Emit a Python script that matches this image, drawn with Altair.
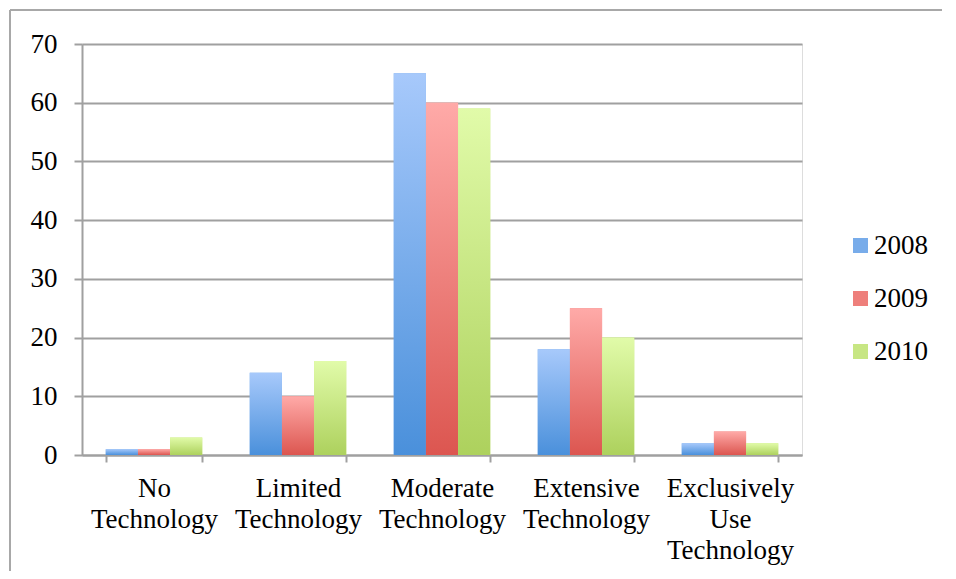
import altair as alt
import pandas as pd

categories = ["No Technology", "Limited Technology", "Moderate Technology",
              "Extensive Technology", "Exclusively Use Technology"]
years = ["2008", "2009", "2010"]
v2008 = [1, 14, 65, 18, 2]
v2009 = [1, 10, 60, 25, 4]
v2010 = [3, 16, 59, 20, 2]

rows = []
for yr, vals in zip(years, [v2008, v2009, v2010]):
    for c, v in zip(categories, vals):
        rows.append({"category": c, "year": yr, "value": v})
df = pd.DataFrame(rows)

top_colors = {"2008": "#a7c9fb", "2009": "#ffaaa8", "2010": "#e1fba9"}
bot_colors = {"2008": "#4a90db", "2009": "#dc5650", "2010": "#add15d"}
mid_colors = ["#78acea", "#ee7f7b", "#c7e683"]

FONT = "Liberation Serif"
FS = 27

x_enc = alt.X("category:N", sort=categories, title=None,
              scale=alt.Scale(paddingInner=0.33, paddingOuter=0.165),
              axis=alt.Axis(labelExpr="split(datum.label, ' ')", labelAngle=0,
                            labelFont=FONT, labelFontSize=FS, labelColor="#000000",
                            labelLineHeight=31, labelPadding=13, labelBaseline="top",
                            tickBand="extent", tickSize=7, tickColor="#a0a0a0",
                            tickWidth=2, domainColor="#a0a0a0", domainWidth=2,
                            grid=False))
y_enc = alt.Y("value:Q", title=None,
              scale=alt.Scale(domain=[0, 70], nice=False),
              axis=alt.Axis(values=list(range(0, 71, 10)), labelFont=FONT,
                            labelFontSize=FS, labelColor="#000000", labelPadding=17,
                            tickSize=8, tickColor="#a0a0a0", tickWidth=2,
                            domainColor="#a0a0a0", domainWidth=2,
                            gridColor="#a0a0a0", gridWidth=2))

base = alt.Chart(df)

legend_layer = base.mark_bar().encode(
    x=x_enc, y=y_enc,
    xOffset=alt.XOffset("year:N", sort=years),
    color=alt.Color("year:N", sort=years,
                    scale=alt.Scale(domain=years, range=mid_colors),
                    legend=alt.Legend(title=None, orient="none", legendX=765,
                                      legendY=188, labelFont=FONT, labelFontSize=FS,
                                      labelColor="#000000", symbolType="square",
                                      symbolSize=225, symbolStrokeWidth=0,
                                      rowPadding=25, labelOffset=0)),
)

layers = [legend_layer]
for yr in years:
    grad = alt.Gradient(gradient="linear",
                        stops=[alt.GradientStop(color=top_colors[yr], offset=0),
                               alt.GradientStop(color=bot_colors[yr], offset=1)],
                        x1=0, x2=0, y1=0, y2=1)
    layers.append(
        base.transform_filter(alt.datum.year == yr).mark_bar(fill=grad).encode(
            x=alt.X("category:N", sort=categories),
            y=alt.Y("value:Q"),
            xOffset=alt.XOffset("year:N", sort=years),
        )
    )

frame_v = alt.Chart(pd.DataFrame({"a": [0]})).mark_rule(
    color="#a8a8a8", strokeWidth=2, clip=False).encode(
    x=alt.value(-72), y=alt.value(-34), y2=alt.value(700))
frame_h = alt.Chart(pd.DataFrame({"a": [0]})).mark_rule(
    color="#a8a8a8", strokeWidth=2, clip=False).encode(
    x=alt.value(-72), x2=alt.value(1000), y=alt.value(-34))

chart = alt.layer(*layers, frame_v, frame_h).properties(
    width=720, height=411,
    autosize=alt.AutoSizeParams(type="none"),
    padding={"left": 74, "top": 36, "right": 140, "bottom": 116},
).configure_view(stroke=None).configure(background="#ffffff")

chart.save("out.html", embed_options={"renderer": "svg", "actions": False})
